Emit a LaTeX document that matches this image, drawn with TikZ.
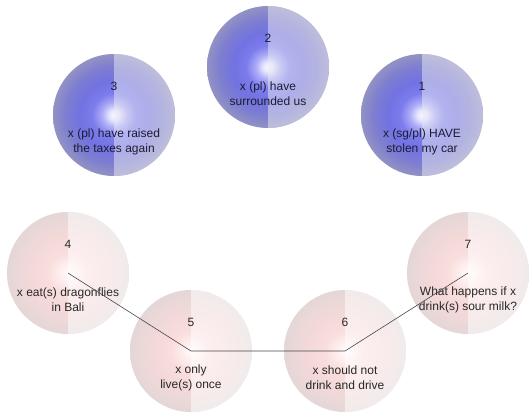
\documentclass[tikz,border=0pt]{standalone}
\usepackage{fontspec}
\setmainfont{Liberation Sans}
\usetikzlibrary{calc}

% sphere-like fills: soft bright spot in the middle, greyish rim
% (25bp is the rim of the filled circle)
\pgfdeclareradialshading{bluesphere}{\pgfpoint{0bp}{0bp}}{%
  color(0bp)=(rgb,255:red,248;green,248;blue,255);
  color(2bp)=(rgb,255:red,230;green,230;blue,255);
  color(5bp)=(rgb,255:red,172;green,172;blue,248);
  color(9bp)=(rgb,255:red,124;green,124;blue,236);
  color(14bp)=(rgb,255:red,114;green,114;blue,226);
  color(20bp)=(rgb,255:red,126;green,126;blue,208);
  color(25bp)=(rgb,255:red,146;green,146;blue,196);
  color(50bp)=(rgb,255:red,146;green,146;blue,196)}
\pgfdeclareradialshading{pinksphere}{\pgfpoint{0bp}{0bp}}{%
  color(0bp)=(rgb,255:red,255;green,252;blue,252);
  color(2.5bp)=(rgb,255:red,255;green,242;blue,242);
  color(8bp)=(rgb,255:red,250;green,222;blue,222);
  color(16bp)=(rgb,255:red,243;green,216;blue,216);
  color(25bp)=(rgb,255:red,228;green,215;blue,215);
  color(50bp)=(rgb,255:red,228;green,215;blue,215)}

\definecolor{bluetext}{RGB}{28,28,52}
\definecolor{pinktext}{RGB}{40,40,40}
\definecolor{linkgray}{RGB}{70,70,70}
\definecolor{blueveil}{RGB}{234,234,242}
\definecolor{pinkveil}{RGB}{255,255,255}

\tikzset{
  sphere/.style={circle, minimum size=122bp, inner sep=0pt, draw=none,
    path picture={\fill[#1, opacity=0.5]
      (path picture bounding box.south) rectangle (path picture bounding box.north east);}},
  bluesph/.style={sphere=blueveil, shading=bluesphere},
  pinksph/.style={sphere=pinkveil, shading=pinksphere},
  numtext/.style={inner sep=0pt, font=\fontsize{12bp}{15bp}\selectfont},
  captext/.style={inner sep=0pt, align=center, font=\fontsize{12bp}{15bp}\selectfont},
  link/.style={draw=linkgray, line width=0.6bp}
}

\begin{document}
\begin{tikzpicture}[x=1bp, y=-1bp]
  \useasboundingbox (0,0) rectangle (532,414);

  % upper row
  \node[bluesph] (n3) at (114,115) {};
  \node[bluesph] (n2) at (268,67) {};
  \node[bluesph] (n1) at (422,115) {};

  % lower row
  \node[pinksph] (n4) at (68,273) {};
  \node[pinksph] (n5) at (191,351) {};
  \node[pinksph] (n6) at (345,351) {};
  \node[pinksph] (n7) at (468,273) {};

  % numbers and captions
  \foreach \n/\num/\cap/\col in {
      n3/3/{x (pl) have raised\\the taxes again}/bluetext,
      n2/2/{x (pl) have\\surrounded us}/bluetext,
      n1/1/{x (sg/pl) HAVE\\stolen my car}/bluetext,
      n4/4/{x eat(s) dragonflies\\in Bali}/pinktext,
      n5/5/{x only\\live(s) once}/pinktext,
      n6/6/{x should not\\drink and drive}/pinktext,
      n7/7/{What happens if x\\drink(s) sour milk?}/pinktext} {
    \node[numtext, text=\col] (\n-num) at ($(\n.center)+(0,-29)$) {\num};
    \node[captext, text=\col] (\n-cap) at ($(\n.center)+(0,26.5)$) {\cap};
  }

  % chain through the lower row
  \draw[link] (n4.center) -- (n5.center) -- (n6.center) -- (n7.center);
\end{tikzpicture}
\end{document}
